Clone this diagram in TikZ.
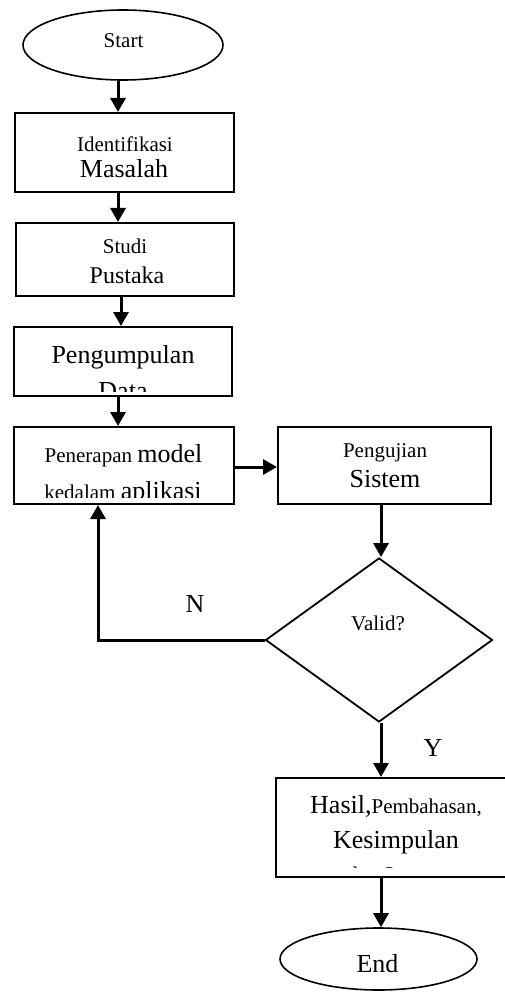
\documentclass[tikz,border=0pt]{standalone}
\usepackage{fontspec}
\setmainfont{Liberation Serif}
\usetikzlibrary{arrows.meta,shapes.geometric,calc}
\newcommand{\fsm}{\fontsize{21}{24}\selectfont}
\newcommand{\flg}{\fontsize{26}{30}\selectfont}
\newcommand{\fmd}{\fontsize{24}{28}\selectfont}
\begin{document}
\begin{tikzpicture}[x=1pt,y=-1pt,
  box/.style={draw, line width=2pt, rectangle, inner sep=0pt},
  oval/.style={draw, ellipse, line width=1.6pt, inner sep=0pt},
  arr/.style={line width=3pt, -{Triangle[width=15pt,length=14pt]}},
  txt/.style={anchor=base, inner sep=0pt},
]
\useasboundingbox (0,0) rectangle (505,992);

% shapes
\node[oval, minimum width=200pt, minimum height=70pt] (start) at (123,45) {};
\node[box, minimum width=219pt, minimum height=79pt] (b1) at (124.5,152.5) {};
\node[box, minimum width=218pt, minimum height=73pt] (b2) at (125,259.5) {};
\node[box, minimum width=218pt, minimum height=69pt] (b3) at (123,361.5) {};
\node[box, minimum width=220pt, minimum height=77pt] (b4) at (124,465.5) {};
\node[box, minimum width=213pt, minimum height=77pt] (b5) at (384.5,465.5) {};
\node[draw, diamond, line width=1.8pt, inner sep=0pt, minimum width=227pt, minimum height=164pt, shape aspect=1.384] (dec) at (379,640) {};
\node[box, minimum width=240pt, minimum height=99pt] (b6) at (396,827.5) {};
\node[oval, minimum width=197pt, minimum height=62pt] (end) at (378.5,959) {};

% texts
\node[txt] (ts) at (123.5,48) {\fsm Start};
\node[txt] (t1a) at (125,152) {\fsm Identifikasi};
\node[txt] (t1b) at (124,178) {\flg Masalah};
\node[txt] (t2a) at (125,253) {\fsm Studi};
\node[txt] (t2b) at (127,283) {\fmd Pustaka};
\begin{scope}
  \clip (b3.north west) rectangle (b3.east |- 0,391);
  \node[txt] (t3a) at (123,363) {\flg Pengumpulan};
  \node[txt] (t3b) at (123,399) {\flg Data};
\end{scope}
\begin{scope}
  \clip (b4.north west) rectangle (b4.east |- 0,497.5);
  \node[txt] (t4a) at (123.5,462) {\fsm Penerapan \flg model};
  \node[txt] (t4b) at (123,499.5) {\fsm kedalam \flg aplikasi};
\end{scope}
\node[txt] (t5a) at (385,457) {\fsm Pengujian};
\node[txt] (t5b) at (385,487) {\flg Sistem};
\node[txt] (td) at (378,630) {\fsm Valid?};
\begin{scope}
  \clip (b6.north west) rectangle (b6.east |- 0,867.5);
  \node[txt] (t6a) at (396,813) {\flg Hasil,\fsm Pembahasan,};
  \node[txt] (t6b) at (396,848) {\flg Kesimpulan};
  \node[txt] (t6c) at (389,881) {\fsm dan Saran};
\end{scope}
\node[txt] (te) at (377.5,972) {\flg End};
\node[txt] (lN) at (195,612) {\flg N};
\node[txt] (lY) at (433,756) {\flg Y};

% connectors
\coordinate (c1) at (118,0);
\coordinate (c2) at (121,0);
\coordinate (c3) at (381,0);
\coordinate (h1) at (0,467);
\coordinate (nc) at (98,640);
\draw[arr] (start.south -| c1) -- (b1.north -| c1);
\draw[arr] (b1.south -| c1) -- (b2.north -| c1);
\draw[arr] (b2.south -| c2) -- (b3.north -| c2);
\draw[arr] (b3.south -| c1) -- (b4.north -| c1);
\draw[arr] (b4.east |- h1) -- (b5.west |- h1);
\draw[arr] (b5.south -| c3) -- (dec.north -| c3);
\draw[arr] (dec.south -| c3) -- (b6.north -| c3);
\draw[arr] (b6.south -| c3) -- (end.north -| c3);
\draw[arr] (dec.west) -- (nc) -- (b4.south -| nc);
\end{tikzpicture}
\end{document}
